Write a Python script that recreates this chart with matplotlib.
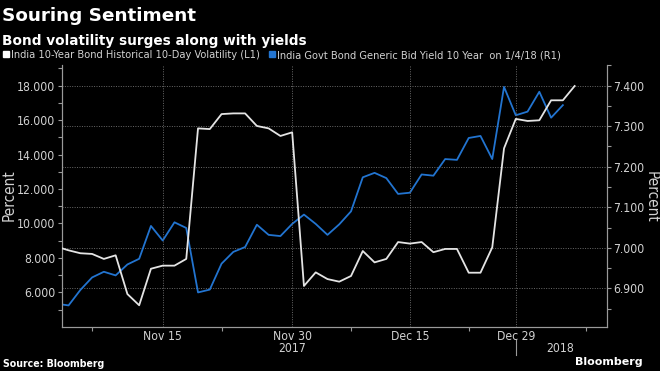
import numpy as np
import pandas as pd
import matplotlib
matplotlib.use("Agg")
import matplotlib.pyplot as plt
from matplotlib.lines import Line2D
import matplotlib.transforms as mtransforms

plt.rcParams['font.family'] = ['DejaVu Sans']
plt.rcParams['font.stretch'] = 'condensed'

# Trading days (India): Nov 2 2017 - Jan 5 2018, market holidays removed
dates = pd.bdate_range("2017-11-02", "2018-01-05")
dates = dates.drop(pd.to_datetime(["2017-12-01", "2017-12-25"]))

# India 10-Year Bond Historical 10-Day Volatility (L1)
volatility = [8.65, 8.44, 8.27, 8.23, 7.94, 8.15, 5.90, 5.25, 7.37, 7.55,
              7.55, 7.94, 15.52, 15.48, 16.35, 16.39, 16.39, 15.66, 15.52, 15.08,
              15.29, 6.37, 7.16, 6.77, 6.62, 6.95, 8.40, 7.74, 7.94, 8.92,
              8.83, 8.92, 8.33, 8.52, 8.52, 7.14, 7.14, 8.61, 14.36, 16.07,
              15.95, 15.99, 17.15, 17.15, 17.98]

# India Govt Bond Generic Bid Yield 10 Year (R1)
bond_yield = [6.862, 6.858, 6.896, 6.927, 6.941, 6.932, 6.959, 6.973, 7.054, 7.018,
              7.063, 7.049, 6.890, 6.897, 6.961, 6.990, 7.002, 7.057, 7.032, 7.029,
              7.059, 7.082, 7.059, 7.032, 7.058, 7.090, 7.174, 7.185, 7.172, 7.133,
              7.136, 7.181, 7.178, 7.219, 7.217, 7.271, 7.276, 7.219, 7.397, 7.327,
              7.336, 7.385, 7.321, 7.352]

tick_dates = ["2017-11-15", "2017-11-30", "2017-12-15", "2017-12-29"]
tick_labels = ["Nov 15", "Nov 30", "Dec 15", "Dec 29"]
minor_pos = [3, 14, 25, 35, 45]

bg = "black"
white_line = "#e4e4e4"
blue_line = "#2274d0"
txt = "#d2d2d2"
spine_c = "#9a9a9a"

fig = plt.figure(figsize=(6.6, 3.71), dpi=100, facecolor=bg)
ax = fig.add_axes([61.5 / 660, 1 - 327.3 / 371, (607 - 61.5) / 660, (327.3 - 65) / 371])
ax.set_facecolor(bg)
ax2 = ax.twinx()

x_vol = np.arange(len(volatility))
x_yld = np.arange(len(bond_yield))
ax.plot(x_vol, volatility, color=white_line, lw=1.3, zorder=3)
ax2.plot(x_yld, bond_yield, color=blue_line, lw=1.3, zorder=2)

ax.set_xlim(0.4, 46.75)
ax.set_ylim(3.97, 19.2)
ax2.set_ylim(6.804, 7.451)

tick_pos = [dates.get_loc(pd.Timestamp(d)) for d in tick_dates]
ax.set_xticks(tick_pos)
ax.set_xticklabels(tick_labels)
ax.set_xticks(minor_pos, minor=True)

ax.set_yticks(np.arange(6, 19, 2))
ax.set_yticks(np.arange(5, 20, 2), minor=True)
ax.set_yticklabels(["%.3f" % v for v in np.arange(6, 19, 2)])
ax2.set_yticks(np.arange(6.9, 7.41, 0.1))
ax2.set_yticks(np.arange(6.85, 7.46, 0.1), minor=True)
ax2.set_yticklabels(["%.3f" % v for v in np.arange(6.9, 7.41, 0.1)])

for a in (ax, ax2):
    for s in a.spines.values():
        s.set_color(spine_c)
    a.spines['top'].set_visible(False)
    a.tick_params(colors=spine_c, labelcolor=txt, labelsize=8.7, length=3, width=0.8, pad=1.5)
    a.tick_params(which='minor', colors=spine_c, length=3, width=0.8)
ax.tick_params(axis='x', which='major', length=0, pad=2)

# grid: vertical at date ticks, horizontal at right-axis ticks
ax.grid(axis='x', color="#6a6a6a", linestyle=(0, (1, 1.5)), lw=0.7)
ax2.grid(axis='y', color="#6a6a6a", linestyle=(0, (1, 1.5)), lw=0.7)
ax.set_zorder(ax2.get_zorder() + 1)
ax.patch.set_visible(False)
ax2.patch.set_visible(True)
ax2.patch.set_facecolor(bg)

fig.text(9 / 660, 1 - 195 / 371, "Percent", color=txt, fontsize=11, rotation=90,
         ha='center', va='center')
fig.text(651 / 660, 1 - 197 / 371, "Percent", color=txt, fontsize=11, rotation=270,
         ha='center', va='center')

# year labels below the date ticks
trans = mtransforms.blended_transform_factory(ax.transData, fig.transFigure)
ax.text(tick_pos[1], 1 - 348.5 / 371, "2017", transform=trans, ha='center', va='center',
        color=txt, fontsize=8.7)
ax.text(42.8, 1 - 348.5 / 371, "2018", transform=trans, ha='center', va='center',
        color=txt, fontsize=8.7)
fig.add_artist(Line2D([tick_pos[3], tick_pos[3]], [1 - 340 / 371, 1 - 355 / 371],
                      transform=trans, color=spine_c, lw=0.8))

# titles
fig.text(0.003, 1 - 16 / 371, "Souring Sentiment", color="white", fontsize=13.2,
         fontweight='bold', va='center', ha='left', fontstretch='normal')
fig.text(0.003, 1 - 41 / 371, "Bond volatility surges along with yields", color="white",
         fontsize=9.8, fontweight='bold', va='center', ha='left', fontstretch='normal')

# legend
handles = [Line2D([], [], marker='s', ls='', color="white", markersize=5),
           Line2D([], [], marker='s', ls='', color=blue_line, markersize=5)]
labels = ["India 10-Year Bond Historical 10-Day Volatility (L1)",
          "India Govt Bond Generic Bid Yield 10 Year  on 1/4/18 (R1)"]
fig.legend(handles, labels, loc='center left', bbox_to_anchor=(0.003, 1 - 55 / 371),
           ncol=2, frameon=False, fontsize=7.9, labelcolor=txt, handletextpad=0.05,
           columnspacing=0.7, handlelength=0.8, borderaxespad=0, borderpad=0)

fig.text(0.005, 1 - 364 / 371, "Source: Bloomberg", color="white", fontsize=7.6,
         fontweight='bold', va='center', ha='left')
fig.text(643 / 660, 1 - 362 / 371, "Bloomberg", color="white", fontsize=8,
         fontweight='bold', va='center', ha='right', fontstretch='normal')

fig.savefig("out.png", dpi=100, facecolor=bg)
